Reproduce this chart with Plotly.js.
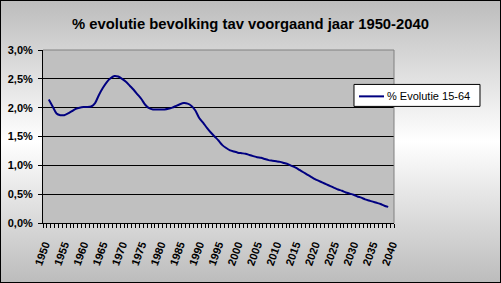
<!DOCTYPE html>
<html>
<head>
<meta charset="utf-8">
<script src="https://cdn.plot.ly/plotly-3.0.1.min.js"></script>
<style>
html,body{margin:0;padding:0;}
#wrap{position:relative;width:501px;height:283px;background:linear-gradient(180deg,#bcbcbc 0%,#ffffff 50%,#bcbcbc 100%);}
#chart{position:absolute;left:0;top:0;width:501px;height:283px;}
#frame{position:absolute;left:0;top:0;width:499px;height:281px;border:1px solid #000;pointer-events:none;}
</style>
</head>
<body>
<div id="wrap"><div id="chart"></div><div id="frame"></div></div>
<script>
var years = [];
for (var y = 1951; y <= 2039; y++) years.push(y);
var evolutie = [
 2.14, 2.02, 1.90, 1.87, 1.87, 1.90, 1.94, 1.98, 2.00, 2.01,
 2.01, 2.02, 2.08, 2.22, 2.34, 2.44, 2.51, 2.55, 2.54, 2.50,
 2.45, 2.38, 2.31, 2.23, 2.15, 2.05, 1.99, 1.97, 1.97, 1.97,
 1.97, 1.98, 2.00, 2.03, 2.06, 2.08, 2.07, 2.03, 1.95, 1.82,
 1.74, 1.65, 1.57, 1.50, 1.43, 1.35, 1.30, 1.26, 1.24, 1.22,
 1.21, 1.20, 1.18, 1.16, 1.14, 1.13, 1.11, 1.09, 1.08, 1.07,
 1.06, 1.04, 1.02, 0.99, 0.96, 0.92, 0.88, 0.84, 0.80, 0.76,
 0.73, 0.70, 0.67, 0.64, 0.61, 0.58, 0.56, 0.53, 0.51, 0.49,
 0.46, 0.44, 0.41, 0.39, 0.37, 0.35, 0.33, 0.30, 0.28
];
var seriesName = '% Evolutie 15-64';
var xTickVals = [1950,1955,1960,1965,1970,1975,1980,1985,1990,1995,2000,2005,2010,2015,2020,2025,2030,2035,2040];
var xTickText = xTickVals.map(String);
var yTickVals = [0,0.5,1,1.5,2,2.5,3];
var yTickText = ['0,0%','0,5%','1,0%','1,5%','2,0%','2,5%','3,0%'];

var font = "Arial, 'Liberation Sans', sans-serif";
var lineColor = '#000080';
var trace = {
  x: years, y: evolutie, type: 'scatter', mode: 'lines',
  name: seriesName, showlegend: false,
  line: {color: lineColor, width: 2, shape: 'spline', smoothing: 0.6}
};
var lgX0 = 0.886, lgX1 = 1.245, lgY1 = 0.801, lgY0 = 0.674;
var layout = {
  width: 501, height: 283,
  margin: {l: 43, r: 107, t: 50, b: 60, pad: 0},
  paper_bgcolor: 'rgba(0,0,0,0)',
  plot_bgcolor: '#c0c0c0',
  separators: ',.',
  title: {text: '<b>% evolutie bevolking tav voorgaand jaar 1950-2040</b>',
    font: {family: font, size: 14.8, color: '#000'}, x: 0.5, xanchor: 'center', xref: 'container', y: 0.915, yanchor: 'middle'},
  showlegend: false,
  xaxis: {
    range: [1949.5, 2040.5], tickmode: 'array', tickvals: xTickVals, ticktext: xTickText,
    tickangle: -70, ticks: '', showgrid: false, zeroline: false, ticklabelstandoff: 10,
    showline: true, linecolor: '#000', linewidth: 1,
    tickfont: {family: font, size: 11, color: '#000', weight: 'bold'},
    minor: {tick0: 1949.5, dtick: 1, ticks: 'outside', ticklen: 4, tickcolor: '#000', showgrid: false},
    fixedrange: true
  },
  yaxis: {
    range: [0, 3], tickmode: 'array', tickvals: yTickVals, ticktext: yTickText,
    ticks: 'outside', ticklen: 4, tickcolor: '#000', ticklabelstandoff: 3,
    showgrid: true, gridcolor: '#000', gridwidth: 1, zeroline: false,
    showline: true, linecolor: '#000', linewidth: 1,
    tickfont: {family: font, size: 11, color: '#000', weight: 'bold'},
    fixedrange: true
  },
  shapes: [
    {type: 'line', xref: 'paper', yref: 'paper', x0: 0, x1: 1, y0: 1, y1: 1, line: {color: '#808080', width: 1}, layer: 'above'},
    {type: 'line', xref: 'paper', yref: 'paper', x0: 1, x1: 1, y0: 0, y1: 1, line: {color: '#808080', width: 1}, layer: 'above'},
    {type: 'rect', xref: 'paper', yref: 'paper', x0: lgX0, x1: lgX1, y0: lgY0, y1: lgY1, fillcolor: '#ffffff', line: {color: '#000', width: 1}, layer: 'above'},
    {type: 'line', xref: 'paper', yref: 'paper', x0: 0.9003, x1: 0.9715, y0: 0.732, y1: 0.732, line: {color: lineColor, width: 2}, layer: 'above'}
  ],
  annotations: [
    {text: seriesName, xref: 'paper', yref: 'paper', x: 0.975, y: 0.735, xanchor: 'left', yanchor: 'middle',
     showarrow: false, font: {family: font, size: 11, color: '#000'}}
  ]
};
Plotly.newPlot('chart', [trace], layout, {displayModeBar: false, staticPlot: true});
</script>
</body>
</html>
